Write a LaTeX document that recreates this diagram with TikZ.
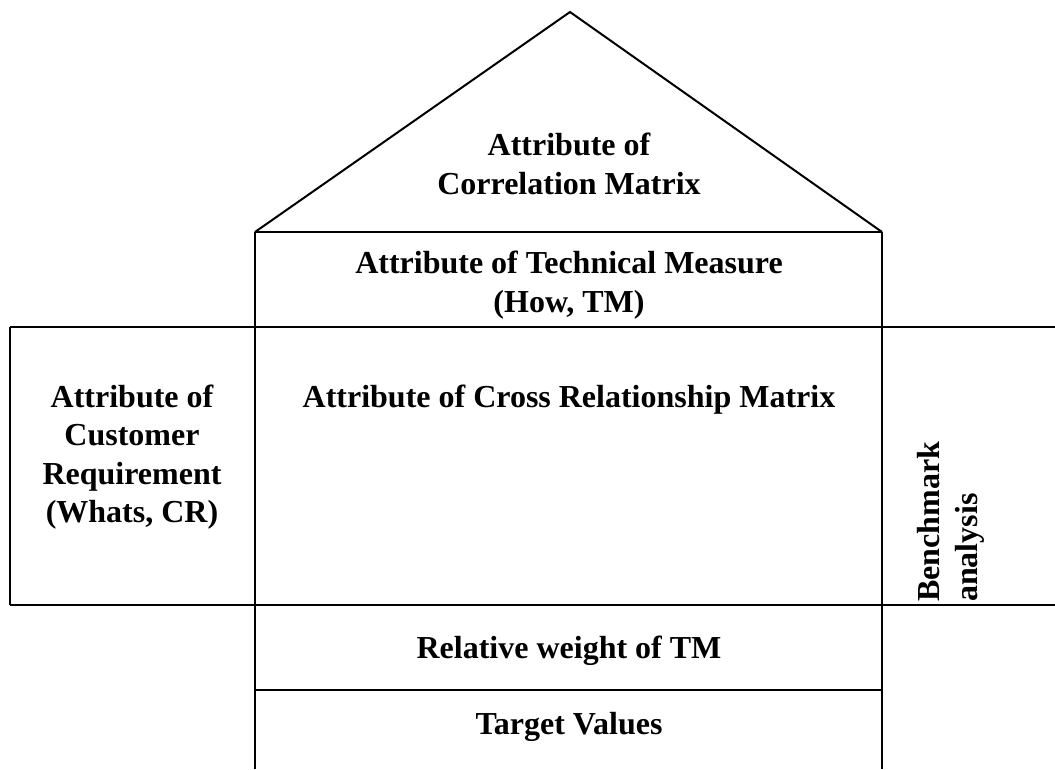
\documentclass[tikz,border=0pt]{standalone}
\usepackage{fontspec}
\setmainfont{Liberation Serif}
\begin{document}
\begin{tikzpicture}[x=1pt,y=-1pt,
  ln/.style={line width=2pt,black},
  lbl/.style={font=\fontsize{32}{38.5}\selectfont\bfseries,align=center,inner sep=0pt}]
\useasboundingbox (0,0) rectangle (1055,769);
% roof
\draw[ln,line join=miter] (255,232) -- (570,12) -- (882,232);
\draw[ln] (255,232) -- (882,232);
% verticals of the house
\draw[ln] (255,232) -- (255,769);
\draw[ln] (882,232) -- (882,769);
% horizontal rows
\draw[ln] (10,327) -- (1055,327);
\draw[ln] (10,605) -- (1055,605);
\draw[ln] (10,327) -- (10,605);
\draw[ln] (255,690) -- (882,690);
% texts
\node[lbl] (corr) at (569,164) {Attribute of\\Correlation Matrix};
\node[lbl] (tm) at (569,285) {Attribute of Technical Measure\\(How, TM)};
\node[lbl] (cross) at (569,400) {Attribute of Cross Relationship Matrix};
\node[lbl] (cr) at (132,457) {Attribute of\\Customer\\Requirement\\(Whats, CR)};
\node[lbl,align=left,rotate=90,anchor=west] (bench) at (951,602) {Benchmark\\analysis};
\node[lbl] (rw) at (569,651) {Relative weight of TM};
\node[lbl] (tv) at (569,727) {Target Values};
\end{tikzpicture}
\end{document}
